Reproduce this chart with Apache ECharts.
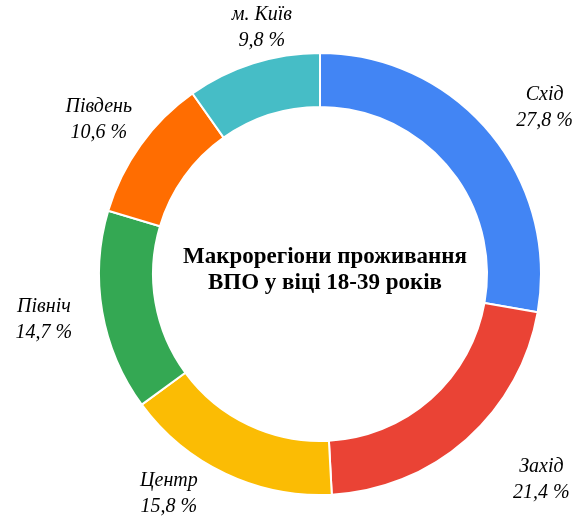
<!DOCTYPE html>
<html>
<head>
<meta charset="utf-8">
<script src="https://cdn.jsdelivr.net/npm/echarts@6/dist/echarts.min.js"></script>
<style>
  html, body { margin: 0; padding: 0; background: #fff; }
  #box { width: 577px; height: 523px; }
</style>
</head>
<body>
<div id="box"></div>
<script>
// дані
const regions = ['Схід', 'Захід', 'Центр', 'Північ', 'Південь', 'м. Київ'];
const shares = [27.8, 21.4, 15.8, 14.7, 10.6, 9.8];
const colors = ['#4285F4', '#EA4335', '#FBBC04', '#34A853', '#FF6D01', '#46BDC6'];
// відстань підписів від кільця
const labelLen = [37, 54, 22, 46, 44, 37];
const labelLen2 = [22, 34, 42, 8, 1, -25];

const chart = echarts.init(document.getElementById('box'));

chart.setOption({
    title: {
        text: 'Макрорегіони проживання\nВПО у віці 18-39 років',
        left: 320,
        top: 239,
        textAlign: 'center',
        textStyle: {
            fontFamily: 'Liberation Serif',
            fontWeight: 'bold',
            fontSize: 23,
            lineHeight: 26,
            color: '#000'
        }
    },
    series: [
        {
            type: 'pie',
            center: [320, 274],
            radius: [167, 221],
            startAngle: 90,
            clockwise: true,
            avoidLabelOverlap: false,
            itemStyle: {
                borderColor: '#fff',
                borderWidth: 2
            },
            label: {
                show: true,
                position: 'outside',
                formatter: function (p) {
                    return p.name + '\n' + p.value.toFixed(1).replace('.', ',') + ' %';
                },
                fontFamily: 'Liberation Serif',
                fontStyle: 'italic',
                fontSize: 20,
                lineHeight: 26,
                color: '#000',
                align: 'center'
            },
            labelLine: { show: false },
            labelLayout: function () {
                return { align: 'center', verticalAlign: 'middle' };
            },
            data: regions.map(function (name, i) {
                return {
                    name: name,
                    value: shares[i],
                    itemStyle: { color: colors[i] },
                    labelLine: { length: labelLen[i], length2: labelLen2[i] }
                };
            })
        }
    ]
});
</script>
</body>
</html>
